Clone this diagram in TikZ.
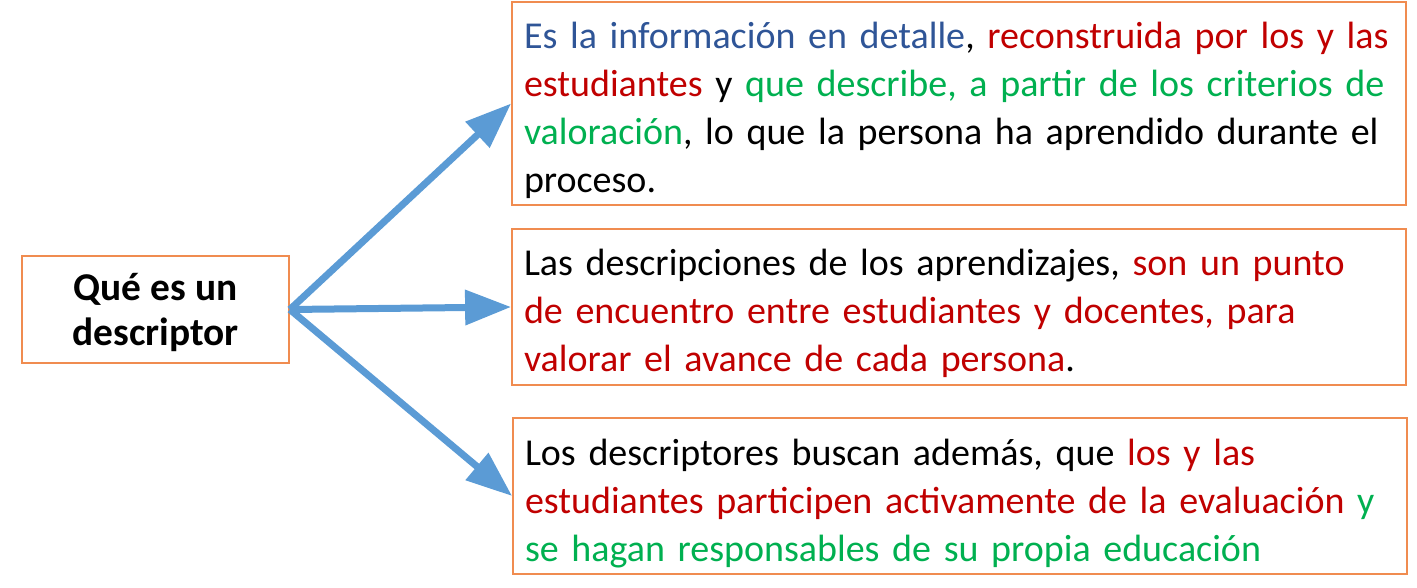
\documentclass[tikz,border=0pt]{standalone}
\usepackage{fontspec}
\setmainfont{Carlito}
\usetikzlibrary{arrows.meta}
\definecolor{boxorange}{HTML}{F08C50}
\definecolor{arrowblue}{HTML}{5B9BD5}
\definecolor{txtblue}{HTML}{2F5597}
\definecolor{txtred}{HTML}{C00000}
\definecolor{txtgreen}{HTML}{00B050}
\begin{document}
\begin{tikzpicture}[x=0.5pt, y=-0.5pt,
    box/.style={draw=boxorange, line width=0.9pt, inner xsep=6pt, inner ysep=0pt,
      text width=435pt, align=left, font=\fontsize{19}{24}\selectfont},
    arrow/.style={color=arrowblue, line width=3.5pt, -{Triangle[length=23pt,width=17pt]}}]
  \useasboundingbox (0,0) rectangle (1417,588);
  \node[draw=boxorange, line width=0.9pt, minimum width=133.5pt, minimum height=53.5pt,
    align=center, font=\bfseries\fontsize{19.7}{22.5}\selectfont] (desc) at (155.5,309.5) {\rule{0pt}{17pt}Qué es un\\descriptor};
  \node[box, minimum height=101.5pt] (info) at (959,103.5) {\rule{0pt}{20pt}\color{txtblue}Es la información en detalle\color{black}, \color{txtred}reconstruida por los y las\\estudiantes\color{black}{} y \color{txtgreen}que describe, a partir de los criterios de\\valoración\color{black}, lo que la persona ha aprendido durante el\\proceso.};
  \node[box, minimum height=78pt] (punto) at (959,307) {\rule{0pt}{20pt}Las descripciones de los aprendizajes, \color{txtred}son un punto\\de encuentro entre estudiantes y docentes, para\\valorar el avance de cada persona\color{black}.};
  \node[box, minimum height=78pt] (busca) at (960,496) {\rule{0pt}{21pt}Los descriptores buscan además, que \color{txtred}los y las\\estudiantes participen activamente de la evaluación \color{txtgreen}y\\se hagan responsables de su propia educación};
  \draw[arrow] (desc.east) -- (info.west);
  \draw[arrow] (desc.east) -- (punto.west);
  \draw[arrow] (desc.east) -- (busca.west);
\end{tikzpicture}
\end{document}
